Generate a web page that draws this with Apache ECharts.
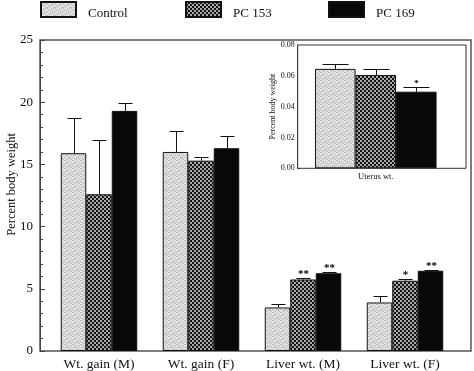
<!DOCTYPE html>
<html>
<head>
<meta charset="utf-8">
<script src="https://cdn.jsdelivr.net/npm/echarts@6/dist/echarts.min.js"></script>
<style>
html,body{margin:0;padding:0;background:#fff;}
#chart{width:474px;height:371px;}
</style>
</head>
<body>
<div id="chart"></div>
<script>
// ---- data ----
const categories = ['Wt. gain (M)', 'Wt. gain (F)', 'Liver wt. (M)', 'Liver wt. (F)'];
const seriesNames = ['Control', 'PC 153', 'PC 169'];
const controlValues = [15.9, 16.0, 3.5, 3.9];
const pc153Values = [12.6, 15.3, 5.75, 5.65];
const pc169Values = [19.3, 16.3, 6.25, 6.45];
const controlErrors = [2.85, 1.65, 0.3, 0.5];
const pc153Errors = [4.4, 0.3, 0.15, 0.15];
const pc169Errors = [0.65, 0.95, 0.1, 0.1];
const controlMarks = ['', '', '', ''];
const pc153Marks = ['', '', '**', '*'];
const pc169Marks = ['', '', '**', '**'];
const yTicks = [0, 5, 10, 15, 20, 25];

const uterusCategory = ['Uterus wt.'];
const uterusValues = [0.0645, 0.0605, 0.0497];
const uterusErrors = [0.003, 0.004, 0.0028];
const uterusMarks = ['', '', '*'];
const uterusTicks = [0.00, 0.02, 0.04, 0.06, 0.08];

// ---- patterns ----
function makeControlPattern() {
  const c = document.createElement('canvas');
  c.width = 8; c.height = 8;
  const g = c.getContext('2d');
  g.fillStyle = '#e2e2e2'; g.fillRect(0, 0, 8, 8);
  g.fillStyle = '#b4b4b4';
  const pts = [[0,0],[1,0],[3,1],[6,1],[5,2],[1,3],[2,3],[7,3],[4,4],[0,5],[5,5],[6,5],[2,6],[3,7],[7,7],[4,6],[3,2],[6,6]];
  pts.forEach(p => g.fillRect(p[0], p[1], 1, 1));
  return c;
}
function makeCheckPattern() {
  const c = document.createElement('canvas');
  c.width = 4; c.height = 4;
  const g = c.getContext('2d');
  g.fillStyle = '#141414'; g.fillRect(0, 0, 4, 4);
  g.fillStyle = '#a8a8a8';
  g.fillRect(0, 0, 2, 2); g.fillRect(2, 2, 2, 2);
  return c;
}
const fills = [
  { image: makeControlPattern(), repeat: 'repeat' },
  { image: makeCheckPattern(), repeat: 'repeat' },
  '#080808'
];

const FONT = 'Liberation Serif';
const MAIN_BW = 25.5;
const INSET_BW = 40.5;

const mainVals = [controlValues, pc153Values, pc169Values];
const mainErrs = [controlErrors, pc153Errors, pc169Errors];
const mainMarks = [controlMarks, pc153Marks, pc169Marks];
const mainErrItems = [];
for (let s = 0; s < 3; s++) {
  for (let i = 0; i < categories.length; i++) {
    mainErrItems.push({ value: [i, mainVals[s][i], mainErrs[s][i], s], mark: mainMarks[s][i] });
  }
}
const insetErrItems = [];
for (let s = 0; s < 3; s++) {
  insetErrItems.push({ value: [0, uterusValues[s], uterusErrors[s], s], mark: uterusMarks[s] });
}

function errRenderer(items, bw, capW, fontSize) {
  return function (params, api) {
    const it = items[params.dataIndex];
    const cat = api.value(0), val = api.value(1), err = api.value(2), s = api.value(3);
    const b = api.coord([cat, val]);
    const t = api.coord([cat, val + err]);
    const x = Math.round(b[0] + (s - 1) * bw) + 0.5;
    const ty = Math.round(t[1]) + 0.5;
    const children = [
      { type: 'line', shape: { x1: x, y1: b[1], x2: x, y2: ty }, style: { stroke: '#111', lineWidth: 1 } },
      { type: 'line', shape: { x1: x - capW / 2, y1: ty, x2: x + capW / 2, y2: ty }, style: { stroke: '#111', lineWidth: 1 } }
    ];
    if (it.mark) {
      children.push({ type: 'text', style: { text: it.mark, x: x, y: ty + 1, align: 'center', verticalAlign: 'bottom', fontSize: fontSize, fontWeight: 'bold', fontFamily: FONT, fill: '#000' } });
    }
    return { type: 'group', children: children };
  };
}

const series = [];
seriesNames.forEach((n, s) => {
  series.push({
    name: n, type: 'bar', xAxisIndex: 0, yAxisIndex: 0,
    data: mainVals[s], barWidth: MAIN_BW, barGap: '0%',
    itemStyle: { color: fills[s], borderColor: '#111', borderWidth: 1 },
    emphasis: { disabled: true }
  });
});
seriesNames.forEach((n, s) => {
  series.push({
    name: n, type: 'bar', xAxisIndex: 2, yAxisIndex: 2,
    data: [uterusValues[s]], barWidth: INSET_BW, barGap: '0%',
    itemStyle: { color: fills[s], borderColor: '#111', borderWidth: 1 },
    emphasis: { disabled: true }
  });
});
series.push({
  type: 'custom', xAxisIndex: 0, yAxisIndex: 0, z: 5,
  data: mainErrItems, renderItem: errRenderer(mainErrItems, MAIN_BW, 14, 11)
});
series.push({
  type: 'custom', xAxisIndex: 2, yAxisIndex: 2, z: 5,
  data: insetErrItems, renderItem: errRenderer(insetErrItems, INSET_BW, 26, 9)
});

const legendBase = {
  top: -1.5, padding: 0, itemWidth: 35, itemHeight: 15, icon: 'rect', selectedMode: false,
  formatter: name => '\n' + name,
  textStyle: { fontFamily: FONT, fontSize: 13, color: '#111', lineHeight: 9, padding: [0, 0, 0, 7] }
};

const chart = echarts.init(document.getElementById('chart'), null, { renderer: 'canvas' });
chart.setOption({
  animation: false,
  backgroundColor: '#fff',
  legend: [
    Object.assign({}, legendBase, { data: [seriesNames[0]], left: 40 }),
    Object.assign({}, legendBase, { data: [seriesNames[1]], left: 185 }),
    Object.assign({}, legendBase, { data: [seriesNames[2]], left: 328 })
  ],
  grid: [
    { left: 48, right: 18, top: 40, bottom: 20 },
    { left: 40, right: 3, top: 40, bottom: 20, show: true, borderColor: '#555', borderWidth: 1.5, backgroundColor: 'transparent' },
    { left: 297.7, right: 20.1, top: 45, bottom: 202.7 },
    { left: 297.7, right: 8, top: 45, bottom: 202.7, show: true, borderColor: '#333', borderWidth: 1, backgroundColor: '#fff', z: 1 }
  ],
  xAxis: [
    { type: 'category', gridIndex: 0, data: categories, axisLine: { show: false }, axisTick: { show: false },
      axisLabel: { fontFamily: FONT, fontSize: 13.5, color: '#111', margin: 6 } },
    { type: 'value', gridIndex: 1, show: false, min: 0, max: 1 },
    { type: 'category', gridIndex: 2, data: uterusCategory, axisLine: { show: false }, axisTick: { show: false },
      axisLabel: { fontFamily: FONT, fontSize: 8.5, color: '#111', margin: 4 } },
    { type: 'value', gridIndex: 3, show: false, min: 0, max: 1 }
  ],
  yAxis: [
    { type: 'value', gridIndex: 0, min: yTicks[0], max: yTicks[yTicks.length - 1], show: false },
    { type: 'value', gridIndex: 1, min: yTicks[0], max: yTicks[yTicks.length - 1], interval: yTicks[1] - yTicks[0],
      axisLine: { show: true, lineStyle: { color: '#444', width: 1 } },
      axisTick: { show: true, inside: true, length: 5, lineStyle: { color: '#444' } },
      minorTick: { show: true, splitNumber: 5, length: 3, lineStyle: { color: '#444' } },
      splitLine: { show: false },
      axisLabel: { fontFamily: FONT, fontSize: 13, color: '#111', margin: 7 } },
    { type: 'value', gridIndex: 2, min: uterusTicks[0], max: uterusTicks[uterusTicks.length - 1], show: false },
    { type: 'value', gridIndex: 3, min: uterusTicks[0], max: uterusTicks[uterusTicks.length - 1], interval: uterusTicks[1] - uterusTicks[0],
      name: 'Percent body weight', nameLocation: 'middle', nameGap: 17, nameRotate: 90,
      nameTextStyle: { fontFamily: FONT, fontSize: 8, color: '#111' },
      axisLine: { show: true, lineStyle: { color: '#333', width: 1 } },
      axisTick: { show: true, inside: true, length: 3, lineStyle: { color: '#333' } },
      minorTick: { show: true, splitNumber: 4, length: 2, lineStyle: { color: '#333' } },
      splitLine: { show: false },
      axisLabel: { fontFamily: FONT, fontSize: 8, color: '#111', margin: 3, formatter: v => v.toFixed(2) } }
  ],
  graphic: [
    { type: 'text', left: 5, top: 133, rotation: Math.PI / 2, silent: true,
      style: { text: 'Percent body weight', fontFamily: FONT, fontSize: 12.5, fill: '#111' } }
  ],
  series: series
});
</script>
</body>
</html>
